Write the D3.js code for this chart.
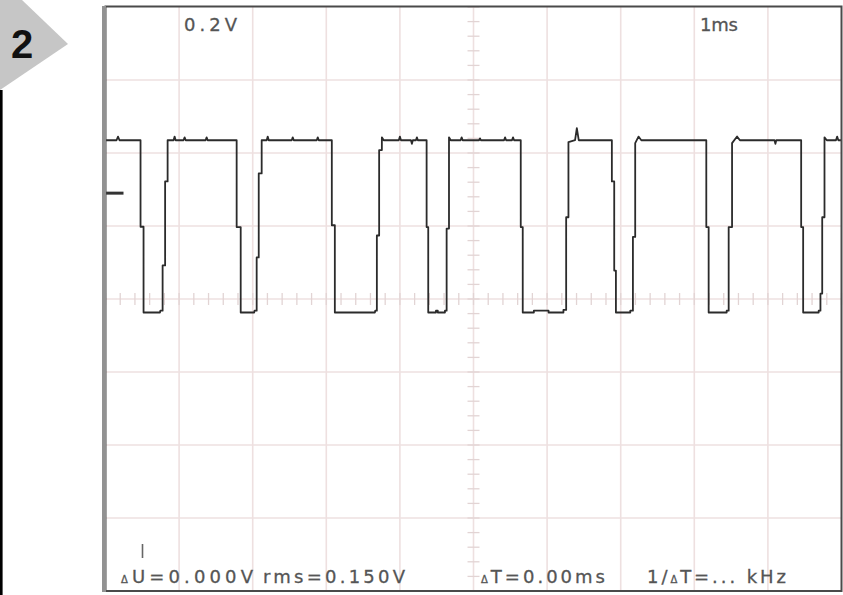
<!DOCTYPE html>
<html>
<head>
<meta charset="utf-8">
<script src="https://cdn.jsdelivr.net/npm/d3@7"></script>
<style>
  html, body { margin: 0; padding: 0; background: #fff; }
  svg { display: block; }
</style>
</head>
<body>
<svg id="chart" width="843" height="595"></svg>
<script>
// Scope screen: 10 horizontal divisions at 1 ms, 8 vertical divisions at 0.2 V
const msPerDiv = 1;
const voltsPerDiv = 0.2;
const divsX = 10;
const divsY = 8;

// Channel reference marker level (V)
const markerLevel = 0.29;

// Captured trace: time (ms) and voltage (V)
const traceT = [
  0, 0.15, 0.17, 0.19, 0.476, 0.476, 0.517, 0.517, 0.74, 0.745, 0.776, 0.776, 0.81, 0.81, 0.844, 0.844,
  0.925, 0.939, 0.953, 1.06, 1.075, 1.09, 1.36, 1.374, 1.388, 1.782, 1.782, 1.837, 1.837, 2.02, 2.025,
  2.054, 2.054, 2.082, 2.082, 2.122, 2.122, 2.19, 2.204, 2.218, 2.53, 2.544, 2.558, 2.87, 2.884, 2.898,
  3.075, 3.075, 3.116, 3.116, 3.66, 3.665, 3.687, 3.687, 3.718, 3.718, 3.755, 3.755, 3.78, 3.985, 4.0,
  4.015, 4.15, 4.163, 4.176, 4.218, 4.231, 4.244, 4.363, 4.363, 4.385, 4.385, 4.49, 4.49, 4.515, 4.515,
  4.612, 4.612, 4.635, 4.635, 4.667, 4.667, 4.69, 4.825, 4.839, 4.853, 5.075, 5.088, 5.1, 5.415, 5.429,
  5.443, 5.523, 5.537, 5.551, 5.642, 5.642, 5.669, 5.669, 5.82, 5.82, 6.02, 6.02, 6.222, 6.222, 6.259,
  6.259, 6.29, 6.29, 6.38, 6.404, 6.43, 6.88, 6.88, 6.912, 6.912, 6.935, 6.935, 7.13, 7.13, 7.166, 7.166,
  7.197, 7.197, 7.242, 7.28, 8.163, 8.163, 8.195, 8.195, 8.44, 8.44, 8.467, 8.467, 8.513, 8.513, 8.581,
  8.62, 9.09, 9.102, 9.114, 9.452, 9.452, 9.479, 9.479, 9.69, 9.69, 9.714, 9.714, 9.738, 9.738, 9.769,
  9.769, 9.8, 9.925, 9.941, 9.957, 10
];
const traceV = [
  0.435, 0.435, 0.445, 0.435, 0.435, 0.198, 0.198, -0.037, -0.037, -0.032, -0.032, 0.092, 0.092, 0.322, 0.322, 0.435,
  0.435, 0.445, 0.435, 0.435, 0.443, 0.435, 0.435, 0.443, 0.435, 0.435, 0.197, 0.197, -0.037, -0.037, -0.032,
  -0.032, 0.114, 0.114, 0.344, 0.344, 0.435, 0.435, 0.445, 0.435, 0.435, 0.443, 0.435, 0.435, 0.443, 0.435,
  0.435, 0.202, 0.202, -0.037, -0.037, -0.032, -0.032, 0.174, 0.174, 0.408, 0.408, 0.443, 0.435, 0.435, 0.445,
  0.435, 0.435, 0.425, 0.435, 0.435, 0.443, 0.435, 0.435, 0.197, 0.197, -0.037, -0.037, -0.032, -0.032, -0.037,
  -0.037, -0.032, -0.032, 0.193, 0.193, 0.443, 0.435, 0.435, 0.443, 0.435, 0.435, 0.44, 0.435, 0.435, 0.443,
  0.435, 0.435, 0.443, 0.435, 0.435, 0.197, 0.197, -0.037, -0.037, -0.032, -0.032, -0.037, -0.037, -0.03, -0.03,
  0.224, 0.224, 0.43, 0.435, 0.468, 0.435, 0.435, 0.322, 0.322, 0.078, 0.078, -0.037, -0.037, -0.032, -0.032, 0.17,
  0.17, 0.427, 0.445, 0.435, 0.435, 0.197, 0.197, -0.037, -0.037, -0.032, -0.032, 0.197, 0.197, 0.427, 0.445,
  0.435, 0.435, 0.425, 0.435, 0.435, 0.197, 0.197, -0.037, -0.037, -0.032, -0.032, 0.015, 0.015, 0.224, 0.224,
  0.443, 0.435, 0.435, 0.445, 0.435, 0.435
];

// Screen annotations
const topLabels = ["0.2V", "1ms"];
const readouts = ["ΔU=0.000V", "rms=0.150V", "ΔT=0.00ms", "1/ΔT=... kHz"];
const badgeText = "2";

const svg = d3.select("#chart");

const plotLeft = 105.5, plotRight = 841.5, plotTop = 7, plotBottom = 591;
const x = d3.scaleLinear().domain([0, divsX * msPerDiv]).range([plotLeft, plotRight]);
const halfV = divsY / 2 * voltsPerDiv;
const y = d3.scaleLinear().domain([-halfV, halfV]).range([plotBottom, plotTop]);

// Corner badge
svg.append("polygon")
  .attr("points", "0,0 22,0 68,44 0,90")
  .attr("fill", "#c6c6c6");
svg.append("rect")
  .attr("x", 0).attr("y", 90).attr("width", 2.6).attr("height", 505)
  .attr("fill", "#000");
svg.append("text")
  .attr("x", 22).attr("y", 58)
  .attr("text-anchor", "middle")
  .attr("font-family", "'Liberation Sans', Arial, sans-serif")
  .attr("font-weight", "bold")
  .attr("font-size", 40)
  .attr("fill", "#111")
  .text(badgeText);

// Grid
const grid = svg.append("g").attr("stroke", "#eee0e0").attr("stroke-width", 1.6);
const xLines = d3.range(1, divsX).map(d => d * msPerDiv);
const yLines = d3.range(-divsY / 2 + 1, divsY / 2).map(d => d * voltsPerDiv);
grid.selectAll("line.v").data(xLines).join("line")
  .attr("x1", d => x(d)).attr("x2", d => x(d))
  .attr("y1", plotTop).attr("y2", plotBottom);
grid.selectAll("line.h").data(yLines).join("line")
  .attr("x1", plotLeft).attr("x2", plotRight)
  .attr("y1", d => y(d)).attr("y2", d => y(d));

// Minor ticks on the centre cross (5 per division)
const minor = svg.append("g").attr("stroke", "#e2d4d4").attr("stroke-width", 1.3);
const xMinor = d3.range(0, divsX * 5 + 1).map(i => i * msPerDiv / 5);
const yMinor = d3.range(0, divsY * 5 + 1).map(i => -halfV + i * voltsPerDiv / 5);
const cx = x(divsX * msPerDiv / 2), cy = y(0);
minor.selectAll("line.mx").data(xMinor).join("line")
  .attr("x1", d => x(d)).attr("x2", d => x(d))
  .attr("y1", cy - 6).attr("y2", cy + 6);
minor.selectAll("line.my").data(yMinor).join("line")
  .attr("x1", cx - 6).attr("x2", cx + 6)
  .attr("y1", d => y(d)).attr("y2", d => y(d));

// Trace
const points = traceT.map((t, i) => [t, traceV[i]]);
const line = d3.line().x(d => x(d[0])).y(d => y(d[1]));
svg.append("path")
  .datum(points)
  .attr("d", line)
  .attr("fill", "none")
  .attr("stroke", "#2b2b2b")
  .attr("stroke-width", 1.8)
  .attr("stroke-linejoin", "round");

// Channel reference marker
svg.append("line")
  .attr("x1", plotLeft).attr("x2", plotLeft + 18)
  .attr("y1", y(markerLevel)).attr("y2", y(markerLevel))
  .attr("stroke", "#333").attr("stroke-width", 3);

// Cursor mark above the readout
svg.append("line")
  .attr("x1", 142.5).attr("x2", 142.5)
  .attr("y1", 544).attr("y2", 558)
  .attr("stroke", "#666").attr("stroke-width", 1.6);

// Frame
svg.append("rect")
  .attr("x", plotLeft).attr("y", plotTop - 0.5)
  .attr("width", plotRight - plotLeft).attr("height", plotBottom - plotTop + 0.5)
  .attr("fill", "none").attr("stroke", "#4a4a4a").attr("stroke-width", 2);
svg.append("rect")
  .attr("x", 102).attr("y", plotTop - 1).attr("width", 4).attr("height", plotBottom - plotTop + 2)
  .attr("fill", "#929292");

// Text helper: small delta glyph, rest in the screen font
function screenText(str, xPos, yPos, width) {
  const t = svg.append("text")
    .attr("x", xPos).attr("y", yPos)
    .attr("font-family", "'DejaVu Sans', sans-serif")
    .attr("font-size", 18)
    .attr("fill", "#555")
    .attr("stroke", "#555")
    .attr("stroke-width", 0.3)
    .attr("textLength", width)
    .attr("lengthAdjust", "spacing");
  str.split(/(Δ)/).filter(s => s.length).forEach(part => {
    t.append("tspan")
      .attr("font-size", part === "Δ" ? 10 : 18)
      .text(part);
  });
}

screenText(topLabels[0], 184, 31, 53);
screenText(topLabels[1], 700, 31, 38);
screenText(readouts[0], 121, 583, 132);
screenText(readouts[1], 263, 583, 142);
screenText(readouts[2], 481, 583, 124);
screenText(readouts[3], 647, 583, 139);
</script>
</body>
</html>
